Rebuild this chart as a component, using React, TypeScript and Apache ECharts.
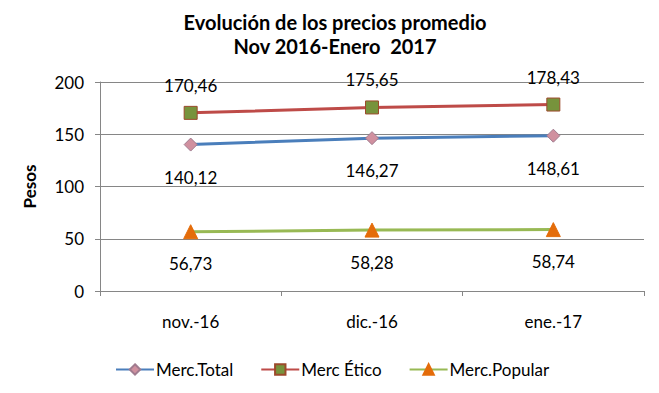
import React, { useEffect, useRef } from "react";
import * as echarts from "echarts";

const categories = ["nov.-16", "dic.-16", "ene.-17"];
const mercTotal = [140.12, 146.27, 148.61];
const mercEtico = [170.46, 175.65, 178.43];
const mercPopular = [56.73, 58.28, 58.74];
const seriesNames = ["Merc.Total", "Merc Ético", "Merc.Popular"];

const FONT = "Lato";
const FS = 17;

export default function App() {
  const ref = useRef<HTMLDivElement>(null);
  useEffect(() => {
    const chart = echarts.init(ref.current!, undefined, { renderer: "svg" });
    const fmt = (p: any) => String(p.value.toFixed(2)).replace(".", ",");
    const labelBase = {
      show: true,
      color: "#000",
      fontFamily: FONT,
      fontSize: FS,
      formatter: fmt,
    };
    chart.setOption({
      animation: false,
      backgroundColor: "#fff",
      title: {
        text: "Evolución de los precios promedio\nNov 2016-Enero  2017",
        left: 330,
        textAlign: "center",
        top: 5,
        textStyle: {
          fontFamily: FONT,
          fontWeight: "bold",
          fontSize: 20,
          lineHeight: 24,
          color: "#000",
        },
      },
      legend: {
        top: 356,
        left: 110,
        itemWidth: 38,
        itemHeight: 13,
        itemGap: 27,
        textStyle: { fontFamily: FONT, fontSize: FS, color: "#000", padding: [0, 0, 0, -3] },
        data: seriesNames,
      },
      grid: { left: 100, right: 15, top: 82, bottom: 102 },
      xAxis: {
        type: "category",
        data: categories,
        boundaryGap: true,
        axisLine: { lineStyle: { color: "#868686", width: 1 } },
        axisTick: { show: true, length: 5, inside: false, lineStyle: { color: "#868686" } },
        axisLabel: { fontFamily: FONT, fontSize: FS, color: "#000", margin: 22 },
      },
      yAxis: {
        type: "value",
        min: 0,
        max: 200,
        interval: 50,
        name: "Pesos",
        nameLocation: "middle",
        nameGap: 62,
        nameTextStyle: { fontFamily: FONT, fontWeight: "bold", fontSize: FS, color: "#000" },
        axisLine: { show: true, lineStyle: { color: "#868686" } },
        axisTick: { show: true, length: 5, lineStyle: { color: "#868686" } },
        axisLabel: { fontFamily: FONT, fontSize: FS, color: "#000", margin: 16 },
        splitLine: { lineStyle: { color: "#868686", width: 1 } },
      },
      series: [
        {
          name: seriesNames[0],
          type: "line",
          data: mercTotal,
          symbol: "diamond",
          symbolSize: 13,
          lineStyle: { color: "#4a7ebb", width: 3 },
          itemStyle: { color: "#d0909f", borderColor: "#a07b8f", borderWidth: 1 },
          label: { ...labelBase, position: "bottom", distance: 17 },
        },
        {
          name: seriesNames[1],
          type: "line",
          data: mercEtico,
          symbol: "rect",
          symbolSize: 13,
          lineStyle: { color: "#be4b48", width: 3 },
          itemStyle: { color: "#77933c", borderColor: "#9c4a2b", borderWidth: 1 },
          label: { ...labelBase, position: "top", distance: 12 },
        },
        {
          name: seriesNames[2],
          type: "line",
          data: mercPopular,
          symbol: "triangle",
          symbolSize: 14,
          lineStyle: { color: "#98b954", width: 3 },
          itemStyle: { color: "#e46c0a", borderColor: "#e46c0a", borderWidth: 1 },
          label: { ...labelBase, position: "bottom", distance: 16 },
        },
      ],
    });
    return () => chart.dispose();
  }, []);
  return <div ref={ref} style={{ width: 659, height: 393, margin: -8 }} />;
}
